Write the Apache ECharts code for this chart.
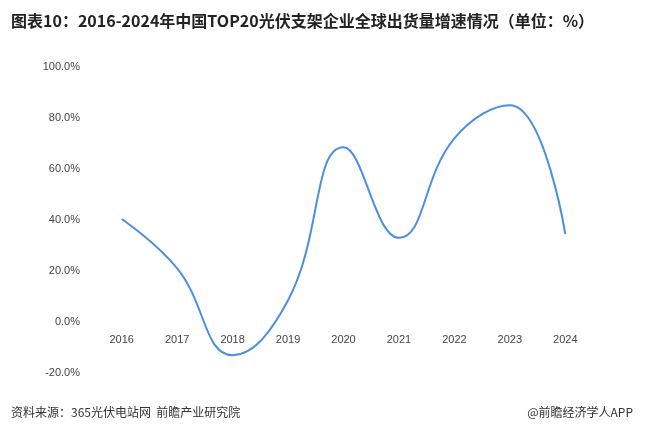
<!DOCTYPE html>
<html lang="zh-CN">
<head>
  <meta charset="UTF-8">
  <script src="https://cdn.jsdelivr.net/npm/echarts@6/dist/echarts.min.js"></script>
  <style>body{margin:0;font-family:"Noto Sans CJK SC"}</style>
</head>
<body>
  <div id="main" style="width:646px;height:429px"></div>
  <script>
  const years = ['2016','2017','2018','2019','2020','2021','2022','2023','2024'];
  const growth = [40.4, 21, -13, 8.5, 68.5, 33, 72, 85, 34.5];

  const chart = echarts.init(document.getElementById('main'));
  chart.setOption({
    title:[
      {text:'图表10：2016-2024年中国TOP20光伏支架企业全球出货量增速情况（单位：%）',left:6,top:8,
       textStyle:{fontSize:16,fontWeight:'bold',color:'#222',fontFamily:'Noto Sans CJK SC'}},
      {text:'资料来源：365光伏电站网  前瞻产业研究院',left:6,bottom:6,
       textStyle:{fontSize:12,fontWeight:'normal',color:'#333',fontFamily:'Noto Sans CJK SC'}},
      {text:'@前瞻经济学人APP',right:8,bottom:6,
       textStyle:{fontSize:12,fontWeight:'normal',color:'#333',fontFamily:'Noto Sans CJK SC'}}
    ],
    grid:{left:94,right:53,top:67,bottom:56},
    xAxis:{type:'category',data:years,
      axisLine:{show:false},axisTick:{show:false},
      axisLabel:{color:'#444',fontSize:11,margin:0,padding:[12,0,0,0]},
      position:'bottom',offset:-51},
    yAxis:{type:'value',min:-20,max:100,interval:20,
      axisLabel:{formatter:v=>v.toFixed(1)+'%',color:'#444',fontSize:11,margin:14},
      splitLine:{show:false},axisLine:{show:false},axisTick:{show:false}},
    series:[{type:'line',data:growth,smooth:0.45,showSymbol:false,
      lineStyle:{color:'#4a8fe0',width:2}}]
  });
  </script>
</body>
</html>
